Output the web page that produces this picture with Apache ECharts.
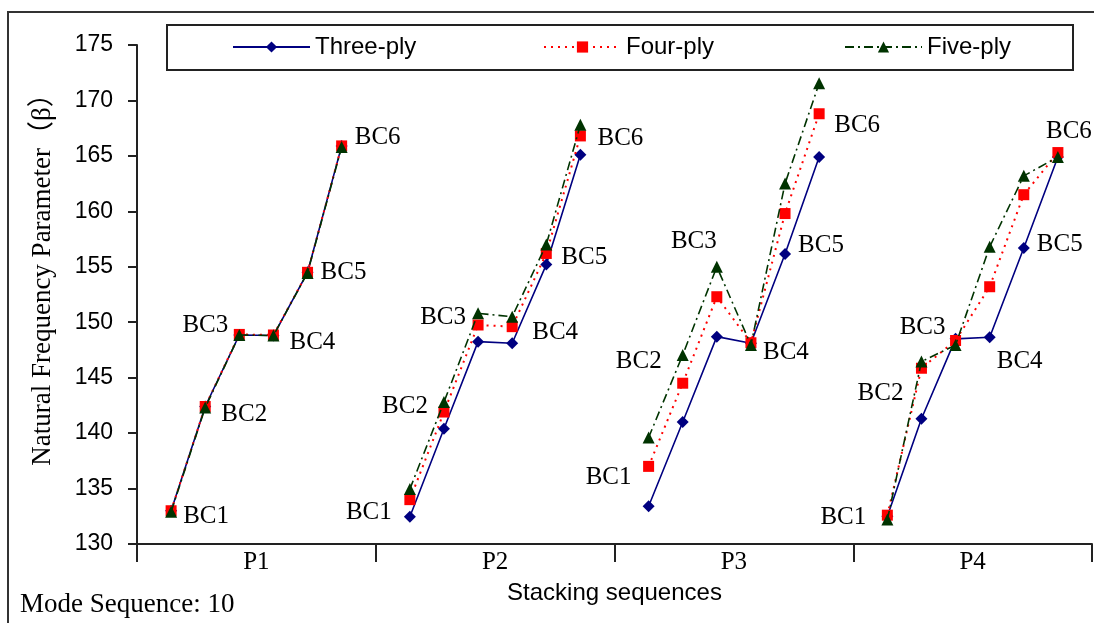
<!DOCTYPE html>
<html>
<head>
<meta charset="utf-8">
<script src="https://cdn.jsdelivr.net/npm/echarts@6/dist/echarts.min.js"></script>
<style>
  html, body { margin: 0; padding: 0; background: #ffffff; }
  #chart { width: 1094px; height: 623px; }
</style>
</head>
<body>
<div id="chart"></div>
<script>
// ---- data ----
const groups = ['P1', 'P2', 'P3', 'P4'];
const conditions = ['BC1', 'BC2', 'BC3', 'BC4', 'BC5', 'BC6'];
const seriesNames = ['Three-ply', 'Four-ply', 'Five-ply'];
const yTicks = [130, 135, 140, 145, 150, 155, 160, 165, 170, 175];

// values in order P1 BC1..BC6, P2 BC1..BC6, P3 ..., P4 ...
const threePly = [
  133.0, 142.4, 148.85, 148.8, 154.5, 165.9,
  132.45, 140.4, 148.25, 148.1, 155.2, 165.1,
  133.4, 141.0, 148.7, 148.1, 156.15, 164.9,
  132.5, 141.3, 148.5, 148.65, 156.7, 164.9
];
const fourPly = [
  133.0, 142.4, 148.9, 148.85, 154.5, 165.9,
  134.0, 141.9, 149.75, 149.6, 156.2, 166.8,
  137.0, 144.5, 152.3, 148.15, 159.8, 168.8,
  132.6, 145.85, 148.35, 153.2, 161.5, 165.3
];
const fivePly = [
  132.9, 142.3, 148.85, 148.8, 154.45, 165.8,
  134.95, 142.8, 150.8, 150.5, 157.0, 167.8,
  139.6, 147.05, 155.0, 147.95, 162.5, 171.55,
  132.2, 146.45, 147.95, 156.8, 163.2, 164.9
];

// ---- label styling (which series carries each BC label, and its offset) ----
const labelAnchor = [
  0, 0, 0, 0, 0, 0,
  0, 2, 2, 1, 1, 1,
  1, 2, 2, 1, 0, 1,
  1, 1, 1, 0, 0, 1
];
const labelOffset = [
  [35, 6], [39, 8], [-34, -10], [39, 7], [36, 0], [36, -8],
  [-41, -4], [-39, 4], [-35, 4], [43, 6], [38, 4], [40, 3],
  [-40, 11], [-44, 7], [-23, -25], [35, 10], [36, -9], [38, 12],
  [-44, 2], [-41, 25], [-33, -13], [30, 24], [36, -3], [11, -21]
];
// legend item left edges (layout)
const legendLefts = [232, 543, 844];

const serif = "'Liberation Serif', 'Times New Roman', serif";
const sans = "'Liberation Sans', Arial, sans-serif";

// category slots: a blank slot before each group and after the last group
const slots = [];
groups.forEach((g, gi) => {
  slots.push('gap' + gi);
  conditions.forEach(c => slots.push(g + '-' + c));
});
slots.push('gapEnd');

function buildData(values, seriesIdx) {
  const out = [];
  groups.forEach((g, gi) => {
    out.push(null);
    conditions.forEach((c, ci) => {
      const k = gi * conditions.length + ci;
      if (labelAnchor[k] === seriesIdx) {
        out.push({
          value: values[k],
          label: {
            show: true,
            formatter: c,
            position: 'inside',
            align: 'center',
            verticalAlign: 'middle',
            offset: labelOffset[k],
            fontFamily: serif,
            fontSize: 25,
            color: '#000'
          }
        });
      } else {
        out.push(values[k]);
      }
    });
  });
  out.push(null);
  return out;
}

const chart = echarts.init(document.getElementById('chart'), null, { renderer: 'canvas' });

const legends = seriesNames.map((n, i) => ({
  data: [n],
  left: legendLefts[i],
  top: 35,
  padding: 0,
  itemWidth: 77,
  itemHeight: 14,
  itemGap: 0,
  textStyle: { fontFamily: sans, fontSize: 24, color: '#000', padding: [0, 0, 0, 0] }
}));

const option = {
  animation: false,
  backgroundColor: '#ffffff',
  grid: { left: 137, right: 2, top: 45, bottom: 79, containLabel: false },
  legend: legends,
  xAxis: [
    {
      type: 'category',
      data: slots,
      boundaryGap: false,
      show: false
    },
    {
      type: 'category',
      data: groups,
      position: 'bottom',
      boundaryGap: true,
      name: 'Stacking sequences',
      nameLocation: 'middle',
      nameGap: 37,
      nameTextStyle: { fontFamily: sans, fontSize: 24, color: '#000' },
      axisLine: { show: true, lineStyle: { color: '#222', width: 2 } },
      axisTick: { show: true, length: 18, lineStyle: { color: '#222', width: 2 } },
      axisLabel: { fontFamily: serif, fontSize: 25, color: '#000', margin: 6 },
      splitLine: { show: false }
    }
  ],
  yAxis: {
    type: 'value',
    min: yTicks[0],
    max: yTicks[yTicks.length - 1],
    interval: yTicks[1] - yTicks[0],
    axisLine: { show: true, lineStyle: { color: '#222', width: 2 } },
    axisTick: { show: true, length: 9, lineStyle: { color: '#222', width: 2 } },
    axisLabel: { fontFamily: sans, fontSize: 23, color: '#000', margin: 24 },
    splitLine: { show: false }
  },
  series: [
    {
      name: seriesNames[0],
      type: 'line',
      xAxisIndex: 0,
      data: buildData(threePly, 0),
      symbol: 'diamond',
      symbolSize: 12,
      showAllSymbol: true,
      itemStyle: { color: '#000080' },
      lineStyle: { color: '#000080', width: 1.6, type: 'solid' },
      z: 2
    },
    {
      name: seriesNames[1],
      type: 'line',
      xAxisIndex: 0,
      data: buildData(fourPly, 1),
      symbol: 'rect',
      symbolSize: 11,
      showAllSymbol: true,
      itemStyle: { color: '#ff0000' },
      lineStyle: { color: '#ff0000', width: 2, type: [2, 5] },
      z: 3
    },
    {
      name: seriesNames[2],
      type: 'line',
      xAxisIndex: 0,
      data: buildData(fivePly, 2),
      symbol: 'triangle',
      symbolSize: [12, 12],
      showAllSymbol: true,
      itemStyle: { color: '#003300' },
      lineStyle: { color: '#003300', width: 1.6, type: [9, 4, 2, 4] },
      z: 4
    }
  ],
  graphic: [
    {
      type: 'rect',
      shape: { x: 8, y: 12, width: 1100, height: 630 },
      style: { fill: 'none', stroke: '#333', lineWidth: 2 },
      silent: true
    },
    {
      type: 'rect',
      shape: { x: 167, y: 25, width: 906, height: 45 },
      style: { fill: 'none', stroke: '#222', lineWidth: 2 },
      silent: true
    },
    {
      type: 'text',
      x: 43,
      y: 273,
      rotation: Math.PI / 2,
      style: {
        text: 'Natural Frequency Parameter（β）',
        fontFamily: "'Liberation Serif', 'Noto Sans CJK SC', serif",
        fontSize: 27,
        fill: '#000',
        align: 'center',
        verticalAlign: 'middle'
      }
    },
    {
      type: 'text',
      x: 20,
      y: 605,
      style: {
        text: 'Mode Sequence: 10',
        fontFamily: serif,
        fontSize: 27,
        fill: '#000',
        align: 'left',
        verticalAlign: 'middle'
      }
    }
  ]
};

chart.setOption(option);
</script>
</body>
</html>
